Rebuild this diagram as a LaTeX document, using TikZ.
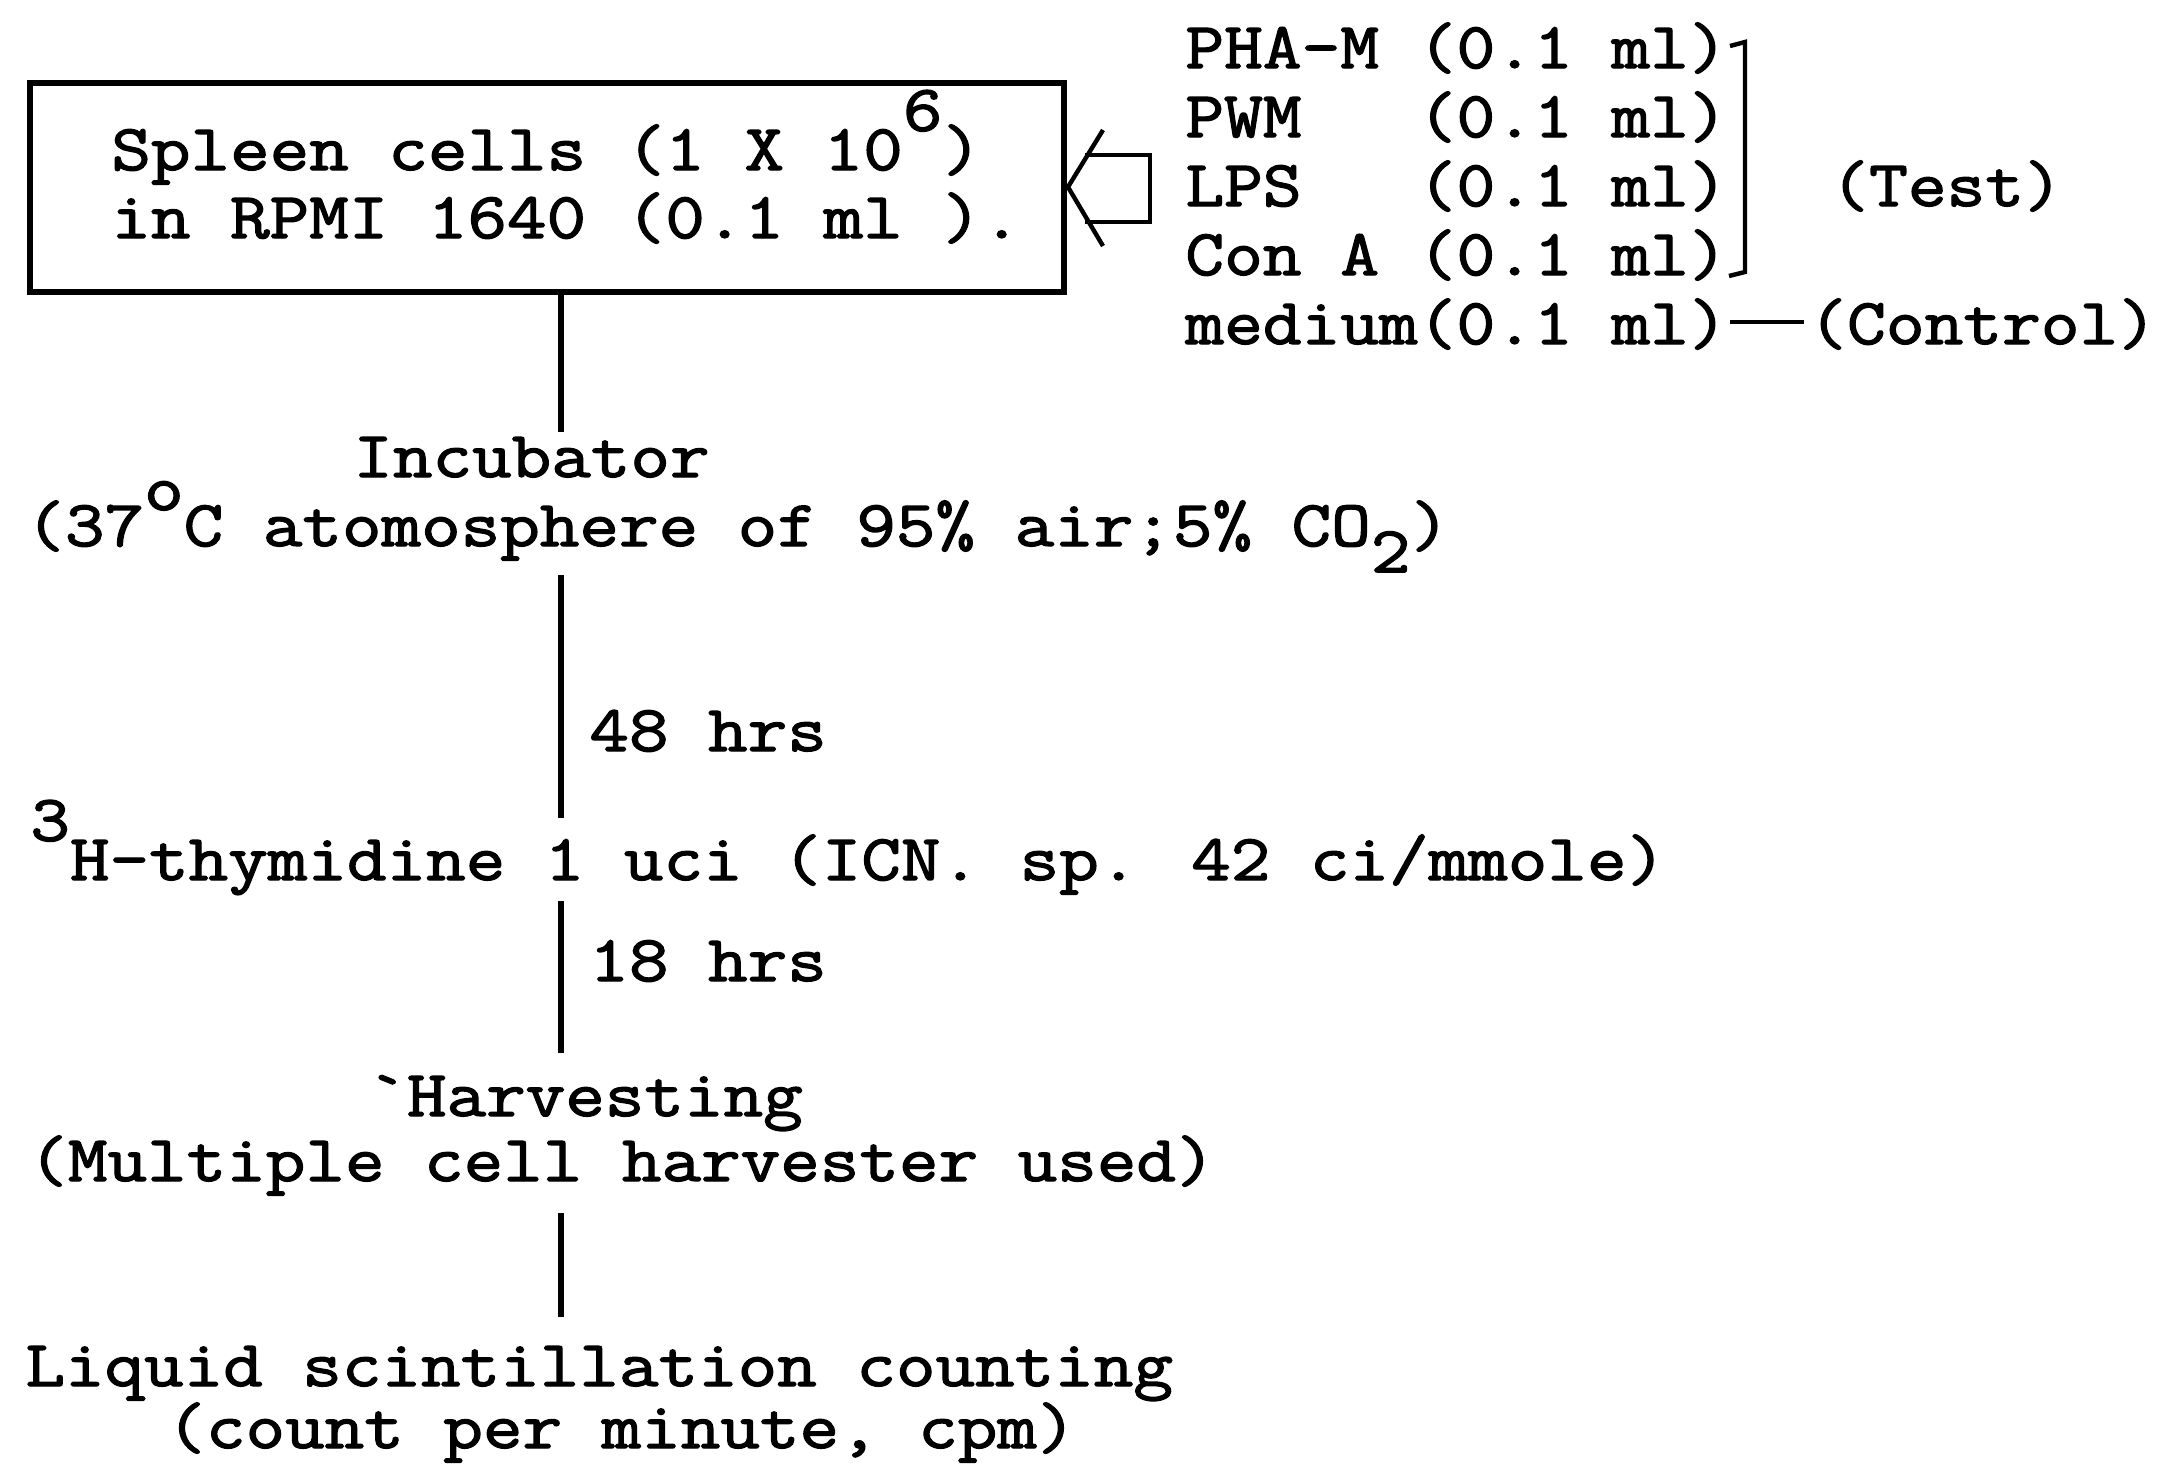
\documentclass[tikz,border=0pt]{standalone}
\usepackage{fontspec}
\newfontfamily\twmain{Latin Modern Mono}[FakeStretch=1.175,FakeBold=2]
\newfontfamily\twlist{Latin Modern Mono}[FakeStretch=1.15,FakeBold=2]
\begin{document}
\begin{tikzpicture}[x=0.5pt,y=-0.5pt,
  txt/.style={font=\twmain\fontsize{32.7}{40}\selectfont, inner sep=0pt, anchor=base west},
  ltxt/.style={font=\twlist\fontsize{32.7}{40}\selectfont, inner sep=0pt, anchor=base west},
  conn/.style={line width=2.6pt},
  boxframe/.style={draw, line width=2.6pt, inner sep=0pt, minimum width=517pt, minimum height=104.5pt}]
\useasboundingbox (0,0) rectangle (2173,1463);
\fill[white] (0,0) rectangle (2173,1463);
% box
\node[boxframe] (box) at (547,187.5) {};
\node[txt] (s1) at (111,170) {Spleen cells (1 X 10\raisebox{0.6em}{6})};
\node[txt] (s2) at (111,238) {in RPMI 1640 (0.1 ml ).};
% hollow arrow
\draw[line width=2.2pt, line join=miter] (1103,130) -- (1068,187) -- (1103,246);
\draw[line width=2.2pt] (1085,155) -- (1150,155) -- (1150,222) -- (1085,222);
% right list
\node[ltxt] (r1) at (1185,68) {PHA-M (0.1 ml)};
\node[ltxt] (r2) at (1185,137) {PWM~~~(0.1 ml)};
\node[ltxt] (r3) at (1185,206) {LPS~~~(0.1 ml)};
\node[ltxt] (r4) at (1185,275) {Con A (0.1 ml)};
\node[ltxt] (r5) at (1185,344) {medium(0.1 ml)};
\node[ltxt] (test) at (1830,206) {(Test)};
\node[ltxt] (ctrl) at (1808,344) {(Control)};
\draw[line width=2.2pt] (1730,46) -- (1745,42) -- (1745,272) -- (1729,276);
\draw[line width=2.2pt] (r5.base east) ++(2,-22) coordinate (d1) -- ([xshift=-2pt]ctrl.base west |- d1);
% flow
\node[txt] (inc) at (353,477) {Incubator};
\node[txt] (inc2) at (25,546) {(37\raisebox{0.55em}{o}C atomosphere of 95\% air;5\% CO\raisebox{-0.4em}{2})};
\node[txt] (h48) at (589,751) {48 hrs};
\node[txt] (thy) at (30,880) {\raisebox{0.6em}{3}H-thymidine 1 uci (ICN. sp. 42 ci/mmole)};
\node[txt] (h18) at (589,981) {18 hrs};
\node[txt] (harv) at (367,1116) {`Harvesting};
\node[txt] (harv2) at (28,1181) {(Multiple cell harvester used)};
\node[txt] (liq) at (25,1386) {Liquid scintillation counting};
\node[txt] (liq2) at (166,1448) {(count per minute, cpm)};
% connectors
\coordinate (a1) at (561,432);
\draw[conn] (box.south -| 561,0) -- (a1);
\coordinate (b0) at (561,575);
\coordinate (b1) at (561,818);
\draw[conn] (b0) -- (b1);
\coordinate (c0) at (561,901);
\coordinate (c1) at (561,1053);
\draw[conn] (c0) -- (c1);
\coordinate (e0) at (561,1213);
\coordinate (e1) at (561,1317);
\draw[conn] (e0) -- (e1);
\end{tikzpicture}
\end{document}
